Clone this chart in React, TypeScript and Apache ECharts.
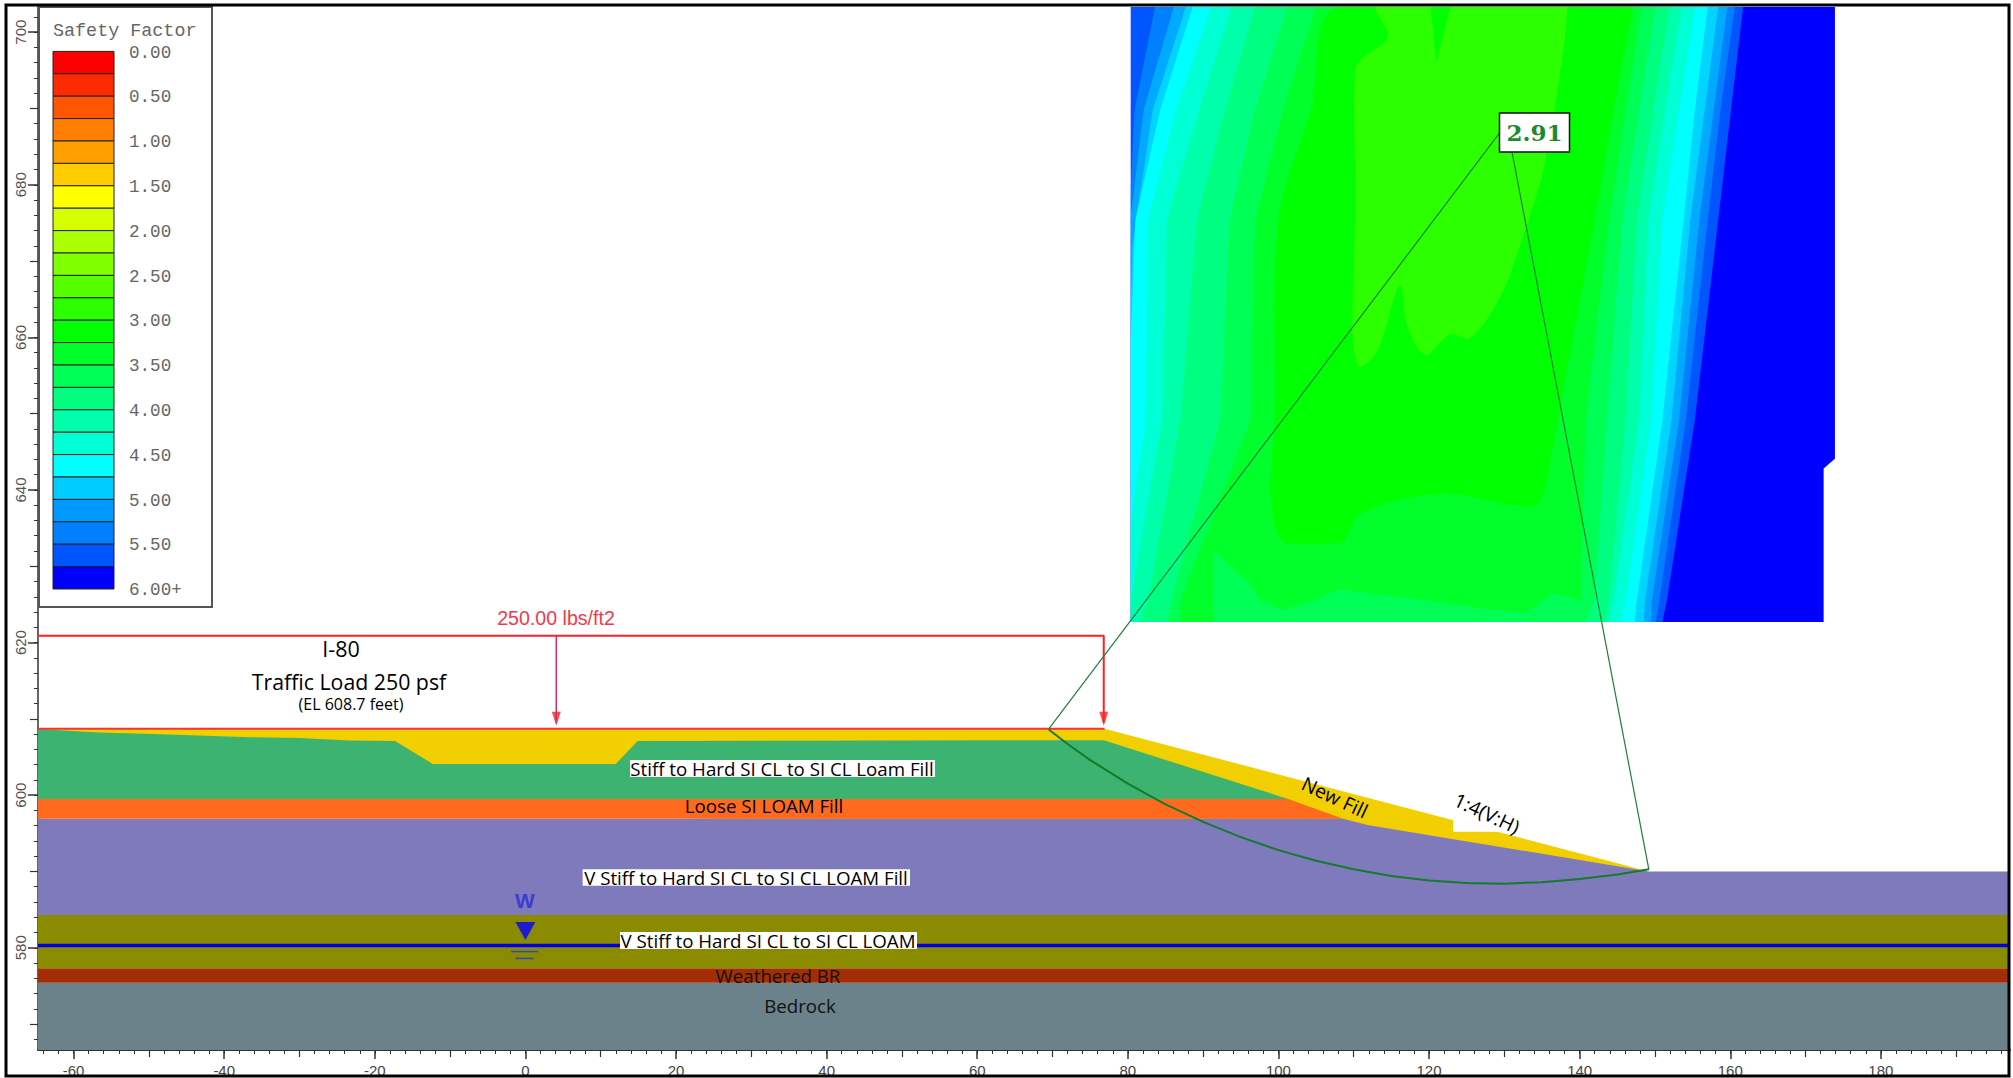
import React, { useEffect, useRef } from "react";
import * as echarts from "echarts";

type Pt = [number, number];

const X_MIN = -64.73;
const X_MAX = 197.15;
const Y_MIN = 566.6;
const Y_MAX = 703.3;

// ---- axis ticks
const xMajor = [-60, -40, -20, 0, 20, 40, 60, 80, 100, 120, 140, 160, 180];
const xMedium = [-50, -30, -10, 10, 30, 50, 70, 90, 110, 130, 150, 170, 190];
const yMajor = [580, 600, 620, 640, 660, 680, 700];
const yMedium = [570, 590, 610, 630, 650, 670, 690];
const evens = (a: number, b: number) => {
  const r: number[] = [];
  for (let v = a; v <= b; v += 2) r.push(v);
  return r;
};
const xMinor = evens(-64, 196);
const yMinor = evens(568, 702);

// ---- safety-factor legend
const legendColors = [
  "#ff0000", "#ff2b00", "#ff5500", "#ff8000", "#ff9f00", "#ffcc00", "#ffff00", "#d5ff00",
  "#aaff00", "#80ff00", "#55ff00", "#2bff00", "#00ff00", "#00ff2b", "#00ff55", "#00ff80",
  "#00ffaa", "#00ffd5", "#00ffff", "#00ccff", "#0099ff", "#0080ff", "#0055ff", "#0000ff",
];
const legendLabels = ["0.00", "0.50", "1.00", "1.50", "2.00", "2.50", "3.00", "3.50", "4.00", "4.50", "5.00", "5.50", "6.00+"];

// ---- safety-factor contour bands (outermost first)
const bandBase: Pt[] = [[80.4, 703.3], [173.9, 703.3], [173.9, 644.1], [172.4, 642.8], [172.4, 622.7], [80.4, 622.7]];
const band0055: Pt[] = [[80.4, 703.3], [80.4, 622.7], [151, 622.7], [151.6, 625.6], [155.3, 649.2], [158.4, 675.4], [160.1, 689.8], [161.7, 703.3]];
const band0080: Pt[] = [[83.6, 703.3], [80.9, 689.8], [80.4, 680], [80.4, 622.7], [150.1, 622.7], [150.6, 625.6], [154.1, 649.2], [157, 675.4], [158.7, 689.8], [160.6, 703.3]];
const band00aa: Pt[] = [[86.1, 703.3], [82.1, 689.8], [80.4, 676], [80.4, 622.7], [149.5, 622.7], [149.6, 625.6], [153.2, 649.2], [155.9, 675.4], [157.8, 689.8], [159.6, 703.3]];
const band00d5: Pt[] = [[87.7, 703.3], [83.3, 689.8], [80.6, 672], [80.4, 665], [80.4, 622.7], [148.5, 622.7], [148.7, 625.6], [152.2, 649.2], [154.7, 675.4], [156.6, 689.8], [158.4, 703.3]];
const band00ff: Pt[] = [[88.6, 703.3], [84.3, 689.8], [81, 675.4], [80.4, 660], [80.4, 622.7], [147.3, 622.7], [147.6, 625.6], [151, 649.2], [153.8, 675.4], [155.3, 689.8], [157, 703.3]];
const bandFFd5: Pt[] = [[91, 703.3], [86.4, 689.8], [82.7, 675.4], [82.4, 649.2], [80.4, 636], [80.4, 622.7], [145.4, 622.7], [146.1, 625.6], [149.5, 649.2], [151, 675.4], [153.2, 689.8], [155.3, 703.3]];
const bandFFaa: Pt[] = [[93.8, 703.3], [89.5, 689.8], [85.2, 675.4], [84.6, 649.2], [80.4, 625.6], [80.4, 622.7], [143.9, 622.7], [144.5, 625.6], [147.9, 649.2], [149.1, 675.4], [151.3, 689.8], [153.5, 703.3]];
const bandFF80: Pt[] = [[96.9, 703.3], [92.9, 689.8], [89.2, 675.4], [87, 649.2], [82.7, 625.6], [81.5, 622.7], [143.3, 622.7], [143.9, 625.6], [146.1, 649.2], [147.6, 675.4], [149.8, 689.8], [151.9, 703.3]];
const bandFF55: Pt[] = [[101.2, 703.3], [96.9, 689.8], [93.5, 675.4], [92.3, 649.2], [85.8, 625.6], [85.2, 622.7], [140.8, 622.7], [142, 625.6], [143.6, 649.2], [145.7, 675.4], [147.9, 689.8], [150.1, 703.3]];
const bandFF2b: Pt[] = [
  [105, 703.3], [100.6, 689.8], [96.9, 675.4], [96.3, 649.2], [87, 625.6], [87, 622.7], [91.4, 622.7], [91.4, 632],
  [96.3, 627.6], [97.5, 625.6], [100.6, 624.3], [105, 625.6], [108, 627], [116.1, 626], [128.4, 624.3], [132.8, 623.9],
  [136.5, 626.5], [140.2, 625.6], [140.8, 649.2], [143.9, 675.4], [146.1, 689.8], [148.2, 703.3],
];
const bandFF00: Pt[] = [
  [108, 703.3], [104.3, 689.8], [100, 675.4], [99.5, 649.2], [98.9, 640], [100.9, 633], [108.2, 633], [110.8, 636.8],
  [121.5, 639.5], [132.1, 637.9], [134.7, 638.5], [136.4, 645.4], [137.1, 649.2], [142, 675.4], [144.5, 689.8], [147, 703.3],
];
const band2bFF: Pt[] = [
  [113.2, 703.3], [114.5, 699.4], [110.2, 695.2], [110.2, 677.5], [109.8, 661.5], [110.8, 656.1], [113.2, 658.3],
  [116.1, 666.8], [117.1, 661.5], [119.5, 657.7], [122.8, 660.4], [125.4, 659.9], [129.4, 665.2], [132.1, 672.1],
  [135.4, 682.9], [138, 698.9], [138.4, 703.3],
];
const bandWedge: Pt[] = [[120.2, 703.3], [121, 696], [122.8, 703.3]];

// ---- soil layers
const newFill: Pt[] = [[X_MIN, 608.7], [76.9, 608.7], [149.2, 590], [108, 594], [X_MIN, 600]];
const bedrock: Pt[] = [[X_MIN, Y_MIN], [X_MAX, Y_MIN], [X_MAX, 575.4], [X_MIN, 575.4]];
const weathered: Pt[] = [[X_MIN, 575.4], [X_MAX, 575.4], [X_MAX, 577.3], [X_MIN, 577.3]];
const loam: Pt[] = [[X_MIN, 577.3], [X_MAX, 577.3], [X_MAX, 584.3], [X_MIN, 584.3]];
const loamFill: Pt[] = [[X_MIN, 584.3], [X_MAX, 584.3], [X_MAX, 590], [149.2, 590], [111.8, 596.1], [108.6, 596.9], [X_MIN, 596.9]];
const looseFill: Pt[] = [[X_MIN, 596.9], [108.6, 596.9], [101.3, 599.5], [X_MIN, 599.5]];
const hardFill: Pt[] = [
  [X_MIN, 599.5], [101.3, 599.5], [76.8, 607.2], [14.9, 607.1], [12, 604.1], [-12.3, 604.1], [-17.3, 607.1],
  [-23.5, 607.15], [-30, 607.5], [-36.6, 607.6], [-42.5, 607.8], [-49.5, 608], [-56.5, 608.2], [-62, 608.5], [X_MIN, 608.7],
];
const slopeNotch: Pt[] = [[123.2, 597.4], [130.1, 595.7], [130.1, 595.2], [123.2, 595.2]];

// ---- lines
const groundLine: Pt[] = [[X_MIN, 608.7], [76.9, 608.7]];
const loadTop: Pt[] = [[X_MIN, 620.9], [76.8, 620.9], [76.8, 609.5]];
const loadMid: Pt[] = [[4.1, 620.9], [4.1, 609.5]];
const loadArrows: Pt[] = [[4.1, 610.0], [76.8, 610.0]];
const waterLine: Pt[] = [[X_MIN, 580.3], [X_MAX, 580.3]];
const waterMark: Pt[] = [[0, 582.2]];
const waterDash1: Pt[] = [[-1.9, 579.5], [1.7, 579.5]];
const waterDash2: Pt[] = [[-1.3, 578.6], [1.1, 578.6]];
const slipRadii: Pt[] = [[69.5, 608.7], [130.3, 688], [149.2, 590.2]];
const slipArc: Pt[] = [
  [69.5, 608.6], [72, 606.7], [75, 604.6], [80, 601.5], [85, 598.8], [90, 596.5], [95, 594.5], [100, 592.8], [105, 591.4],
  [110, 590.3], [115, 589.4], [120, 588.8], [125, 588.5], [130, 588.4], [135, 588.6], [140, 589], [145, 589.6], [149.2, 590.3],
];

const polygon = (name: string, pts: Pt[], fill: string, smooth = 0) => ({
  type: "custom",
  name,
  silent: true,
  coordinateSystem: "cartesian2d",
  xAxisIndex: 0,
  yAxisIndex: 0,
  data: pts,
  encode: { x: 0, y: 1 },
  renderItem: (params: any, api: any) => {
    if (params.dataIndex !== 0) return null;
    const points = pts.map((p) => api.coord(p));
    const xs = points.map((p: number[]) => p[0]);
    const ys = points.map((p: number[]) => p[1]);
    const shape: any = { points };
    if (smooth) {
      shape.smooth = smooth;
      shape.smoothConstraint = [
        [Math.min(...xs), Math.min(...ys)],
        [Math.max(...xs), Math.max(...ys)],
      ];
    }
    return { type: "polygon", shape, style: { fill, stroke: null } };
  },
});

const line = (name: string, pts: Pt[], color: string, width: number) => ({
  type: "line",
  name,
  silent: true,
  xAxisIndex: 0,
  yAxisIndex: 0,
  data: pts,
  symbol: "none",
  lineStyle: { color, width },
});

const FONT = '"Open Sans", sans-serif';
const z = 100;

const label = (text: string, x: number, y: number, size: number, fill = "#000", extra: any = {}) => ({
  type: "text",
  x,
  y,
  z: z + 2,
  rotation: extra.rotation ?? 0,
  style: {
    text,
    fill,
    font: `${extra.weight ?? "normal"} ${size}px ${extra.family ?? FONT}`,
    align: "center",
    verticalAlign: "middle",
  },
});

const whiteBox = (x: number, y: number, width: number, height: number) => ({
  type: "rect",
  z: z + 1,
  shape: { x, y, width, height },
  style: { fill: "#fff" },
});

const BAR_TOP = 51.4;
const BAR_H = 22.4;
const LEGEND_FONT = '"Liberation Mono", monospace';
const LAYER_SIZE = 18.7;

const graphics: any[] = [
  // outer frame
  { type: "rect", z: z + 5, shape: { x: 6, y: 5, width: 2003, height: 1071 }, style: { fill: "none", stroke: "#000", lineWidth: 3 } },
  // legend
  { type: "rect", z, shape: { x: 39, y: 7, width: 173, height: 600 }, style: { fill: "#fff", stroke: "#555", lineWidth: 2 } },
  ...legendColors.map((c, i) => ({
    type: "rect",
    z: z + 1,
    shape: { x: 53, y: BAR_TOP + i * BAR_H, width: 61, height: BAR_H },
    style: { fill: c, stroke: "#222", lineWidth: 1 },
  })),
  ...legendLabels.map((t, i) => ({
    type: "text",
    x: 129,
    y: 52.6 + i * 44.8,
    z: z + 1,
    style: { text: t, fill: "#666", font: `17.6px ${LEGEND_FONT}`, align: "left", verticalAlign: "middle" },
  })),
  {
    type: "text",
    x: 53,
    y: 31,
    z: z + 1,
    style: { text: "Safety Factor", fill: "#666", font: `18.4px ${LEGEND_FONT}`, align: "left", verticalAlign: "middle" },
  },
  // load and site notes
  label("250.00 lbs/ft2", 556, 618, 19.6, "#f03a50", { family: '"Liberation Sans", sans-serif' }),
  label("I-80", 341, 648, 21.5),
  label("Traffic Load 250 psf", 349, 681, 21.3),
  label("(EL 608.7 feet)", 351, 704, 16),
  // layer names
  whiteBox(630, 760, 305, 17),
  label("Stiff to Hard SI CL to SI CL Loam Fill", 782, 768, LAYER_SIZE),
  label("Loose SI LOAM Fill", 764, 805, LAYER_SIZE),
  whiteBox(582.6, 869.3, 327.4, 16.4),
  label("V Stiff to Hard SI CL to SI CL LOAM Fill", 746, 877, LAYER_SIZE),
  whiteBox(620, 932, 297, 17),
  label("V Stiff to Hard SI CL to SI CL LOAM", 768, 940, LAYER_SIZE),
  label("Weathered BR", 778, 975, LAYER_SIZE, "#111"),
  label("Bedrock", 800, 1005, LAYER_SIZE, "#111"),
  label("New Fill", 1335, 797, 19.4, "#000", { rotation: -0.44 }),
  label("1:4(V:H)", 1487, 813, 19.4, "#000", { rotation: -0.44 }),
  label("W", 525, 900, 21, "#3c3cd0", { family: '"Liberation Sans", sans-serif', weight: "bold" }),
  // safety factor callout
  { type: "rect", z: z + 1, shape: { x: 1499.5, y: 113, width: 70, height: 39 }, style: { fill: "#fff", stroke: "#111", lineWidth: 1.5 } },
  label("2.91", 1534.5, 132.5, 23, "#1e8a2e", { family: '"DejaVu Serif", serif', weight: "bold" }),
];

const baseAxis = { scale: true, splitLine: { show: false } };

const xAxisOf = (values: number[], length: number, width: number, main: boolean) => ({
  ...baseAxis,
  type: "value",
  position: "bottom",
  min: X_MIN,
  max: X_MAX,
  axisLine: { show: main, onZero: false, lineStyle: { color: "#333", width: 2 } },
  axisTick: { show: true, length, customValues: values, lineStyle: { color: "#333", width } },
  axisLabel: main
    ? { show: true, customValues: values, margin: 13, color: "#444", fontSize: 15, fontFamily: "Liberation Sans" }
    : { show: false },
});

const yAxisOf = (values: number[], length: number, width: number, main: boolean) => ({
  ...baseAxis,
  type: "value",
  position: "left",
  min: Y_MIN,
  max: Y_MAX,
  axisLine: { show: main, onZero: false, lineStyle: { color: "#666", width: 2 } },
  axisTick: { show: true, length, customValues: values, lineStyle: { color: "#333", width } },
  axisLabel: main
    ? {
        show: true,
        customValues: values,
        rotate: 90,
        align: "center",
        verticalAlign: "middle",
        margin: 18,
        color: "#555",
        fontSize: 15,
        fontFamily: "Liberation Sans",
      }
    : { show: false },
});

const option: any = {
  animation: false,
  backgroundColor: "#fff",
  grid: { left: 38, top: 7, width: 1972, height: 1043, containLabel: false },
  xAxis: [xAxisOf(xMajor, 9, 1.5, true), xAxisOf(xMedium, 7, 1.2, false), xAxisOf(xMinor, 4, 1, false)],
  yAxis: [yAxisOf(yMajor, 10, 1.5, true), yAxisOf(yMedium, 8, 1.2, false), yAxisOf(yMinor, 4, 1, false)],
  series: [
    polygon("SF 6.00+", bandBase, "#0000ff"),
    polygon("SF 5.75", band0055, "#0055ff"),
    polygon("SF 5.50", band0080, "#0080ff"),
    polygon("SF 5.25", band00aa, "#00aaff"),
    polygon("SF 5.00", band00d5, "#00d5ff"),
    polygon("SF 4.75", band00ff, "#00ffff"),
    polygon("SF 4.50", bandFFd5, "#00ffd5"),
    polygon("SF 4.25", bandFFaa, "#00ffaa"),
    polygon("SF 4.00", bandFF80, "#00ff80"),
    polygon("SF 3.75", bandFF55, "#00ff55"),
    polygon("SF 3.50", bandFF2b, "#00ff2b"),
    polygon("SF 3.25", bandFF00, "#00ff00", 0.35),
    polygon("SF 3.00", band2bFF, "#2bff00", 0.35),
    polygon("SF 3.25 wedge", bandWedge, "#00ff00"),
    polygon("New Fill", newFill, "#f2cf00"),
    polygon("Bedrock", bedrock, "#6b828a"),
    polygon("Weathered BR", weathered, "#a32d04"),
    polygon("V Stiff to Hard SI CL to SI CL LOAM", loam, "#8b8b00"),
    polygon("V Stiff to Hard SI CL to SI CL LOAM Fill", loamFill, "#7e7abc"),
    polygon("Loose SI LOAM Fill", looseFill, "#ff6a1f"),
    polygon("Stiff to Hard SI CL to SI CL Loam Fill", hardFill, "#3cb371"),
    polygon("Label notch", slopeNotch, "#ffffff"),
    line("Water table", waterLine, "#0000e6", 3.5),
    line("Water dash 1", waterDash1, "#3344cc", 1.5),
    line("Water dash 2", waterDash2, "#3344cc", 1.5),
    line("Ground", groundLine, "#ff3030", 2),
    line("Load", loadTop, "#ff2020", 2),
    line("Load centre", loadMid, "#c8305f", 1.5),
    line("Slip radii", slipRadii, "#1f7f3a", 1.2),
    line("Slip arc", slipArc, "#157a2a", 2),
    {
      type: "scatter",
      name: "Load arrows",
      silent: true,
      data: loadArrows,
      symbol: "triangle",
      symbolRotate: 180,
      symbolSize: [9, 14],
      itemStyle: { color: "#ff2020" },
    },
    {
      type: "scatter",
      name: "Water mark",
      silent: true,
      data: waterMark,
      symbol: "triangle",
      symbolRotate: 180,
      symbolSize: [20, 18],
      itemStyle: { color: "#0000ff" },
    },
  ],
  graphic: { elements: graphics },
};

export default function App() {
  const ref = useRef<HTMLDivElement>(null);
  useEffect(() => {
    document.body.style.margin = "0";
    const chart = echarts.init(ref.current!, undefined, { renderer: "svg" });
    chart.setOption(option);
    return () => chart.dispose();
  }, []);
  return <div ref={ref} style={{ position: "absolute", left: 0, top: 0, width: 2013, height: 1078 }} />;
}
